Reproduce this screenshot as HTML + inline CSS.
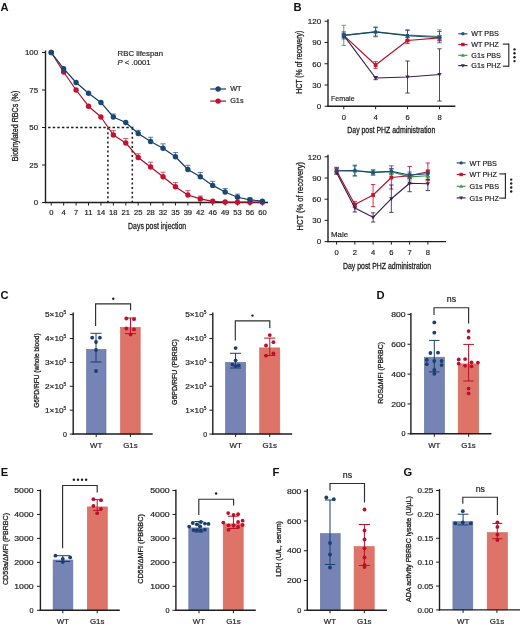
<!DOCTYPE html>
<html><head><meta charset="utf-8"><title>Figure</title>
<style>
html,body{margin:0;padding:0;background:#fff;}
body{width:520px;height:626px;overflow:hidden;}
svg{display:block;font-family:"Liberation Sans", sans-serif;will-change:transform;}
</style></head><body>
<svg width="520" height="626" viewBox="0 0 520 626" font-family='"Liberation Sans", sans-serif' fill="#1c1c1c">
<rect width="520" height="626" fill="#fff"/>
<text x="0.6" y="11.2" font-size="11.2" font-weight="bold" fill="#111">A</text>
<line x1="48.1" y1="127.4" x2="133.5" y2="127.4" stroke="#1e1e1e" stroke-width="1.45" stroke-dasharray="2.45,2.15"/>
<line x1="107.9" y1="127.7" x2="107.9" y2="202.5" stroke="#1e1e1e" stroke-width="1.55" stroke-dasharray="2.0,2.57"/>
<line x1="132.3" y1="127.7" x2="132.3" y2="202.5" stroke="#1e1e1e" stroke-width="1.55" stroke-dasharray="2.0,2.57"/>
<line x1="45.5" y1="50.5" x2="45.5" y2="203.2" stroke="#1e1e1e" stroke-width="1.4"/>
<line x1="44.8" y1="202.5" x2="268" y2="202.5" stroke="#1e1e1e" stroke-width="1.4"/>
<line x1="42" y1="202.5" x2="45.5" y2="202.5" stroke="#1e1e1e" stroke-width="1"/>
<text x="38.1" y="205.3" font-size="7.9" stroke="#1c1c1c" stroke-width="0.18" text-anchor="end">0</text>
<line x1="42" y1="165" x2="45.5" y2="165" stroke="#1e1e1e" stroke-width="1"/>
<text x="38.1" y="167.8" font-size="7.9" stroke="#1c1c1c" stroke-width="0.18" text-anchor="end">25</text>
<line x1="42" y1="127.5" x2="45.5" y2="127.5" stroke="#1e1e1e" stroke-width="1"/>
<text x="38.1" y="130.3" font-size="7.9" stroke="#1c1c1c" stroke-width="0.18" text-anchor="end">50</text>
<line x1="42" y1="90" x2="45.5" y2="90" stroke="#1e1e1e" stroke-width="1"/>
<text x="38.1" y="92.8" font-size="7.9" stroke="#1c1c1c" stroke-width="0.18" text-anchor="end">75</text>
<line x1="42" y1="52.5" x2="45.5" y2="52.5" stroke="#1e1e1e" stroke-width="1"/>
<text x="38.1" y="55.3" font-size="7.9" stroke="#1c1c1c" stroke-width="0.18" text-anchor="end">100</text>
<line x1="51.25" y1="202.5" x2="51.25" y2="205.5" stroke="#1e1e1e" stroke-width="1"/>
<text x="51.25" y="215.2" font-size="7.6" stroke="#1c1c1c" stroke-width="0.18" text-anchor="middle">0</text>
<line x1="63.67" y1="202.5" x2="63.67" y2="205.5" stroke="#1e1e1e" stroke-width="1"/>
<text x="63.67" y="215.2" font-size="7.6" stroke="#1c1c1c" stroke-width="0.18" text-anchor="middle">4</text>
<line x1="76.09" y1="202.5" x2="76.09" y2="205.5" stroke="#1e1e1e" stroke-width="1"/>
<text x="76.09" y="215.2" font-size="7.6" stroke="#1c1c1c" stroke-width="0.18" text-anchor="middle">7</text>
<line x1="88.51" y1="202.5" x2="88.51" y2="205.5" stroke="#1e1e1e" stroke-width="1"/>
<text x="88.51" y="215.2" font-size="7.6" stroke="#1c1c1c" stroke-width="0.18" text-anchor="middle">11</text>
<line x1="100.93" y1="202.5" x2="100.93" y2="205.5" stroke="#1e1e1e" stroke-width="1"/>
<text x="100.93" y="215.2" font-size="7.6" stroke="#1c1c1c" stroke-width="0.18" text-anchor="middle">14</text>
<line x1="113.35" y1="202.5" x2="113.35" y2="205.5" stroke="#1e1e1e" stroke-width="1"/>
<text x="113.35" y="215.2" font-size="7.6" stroke="#1c1c1c" stroke-width="0.18" text-anchor="middle">18</text>
<line x1="125.77" y1="202.5" x2="125.77" y2="205.5" stroke="#1e1e1e" stroke-width="1"/>
<text x="125.77" y="215.2" font-size="7.6" stroke="#1c1c1c" stroke-width="0.18" text-anchor="middle">21</text>
<line x1="138.19" y1="202.5" x2="138.19" y2="205.5" stroke="#1e1e1e" stroke-width="1"/>
<text x="138.19" y="215.2" font-size="7.6" stroke="#1c1c1c" stroke-width="0.18" text-anchor="middle">25</text>
<line x1="150.61" y1="202.5" x2="150.61" y2="205.5" stroke="#1e1e1e" stroke-width="1"/>
<text x="150.61" y="215.2" font-size="7.6" stroke="#1c1c1c" stroke-width="0.18" text-anchor="middle">28</text>
<line x1="163.03" y1="202.5" x2="163.03" y2="205.5" stroke="#1e1e1e" stroke-width="1"/>
<text x="163.03" y="215.2" font-size="7.6" stroke="#1c1c1c" stroke-width="0.18" text-anchor="middle">32</text>
<line x1="175.45" y1="202.5" x2="175.45" y2="205.5" stroke="#1e1e1e" stroke-width="1"/>
<text x="175.45" y="215.2" font-size="7.6" stroke="#1c1c1c" stroke-width="0.18" text-anchor="middle">35</text>
<line x1="187.87" y1="202.5" x2="187.87" y2="205.5" stroke="#1e1e1e" stroke-width="1"/>
<text x="187.87" y="215.2" font-size="7.6" stroke="#1c1c1c" stroke-width="0.18" text-anchor="middle">39</text>
<line x1="200.29" y1="202.5" x2="200.29" y2="205.5" stroke="#1e1e1e" stroke-width="1"/>
<text x="200.29" y="215.2" font-size="7.6" stroke="#1c1c1c" stroke-width="0.18" text-anchor="middle">42</text>
<line x1="212.71" y1="202.5" x2="212.71" y2="205.5" stroke="#1e1e1e" stroke-width="1"/>
<text x="212.71" y="215.2" font-size="7.6" stroke="#1c1c1c" stroke-width="0.18" text-anchor="middle">46</text>
<line x1="225.13" y1="202.5" x2="225.13" y2="205.5" stroke="#1e1e1e" stroke-width="1"/>
<text x="225.13" y="215.2" font-size="7.6" stroke="#1c1c1c" stroke-width="0.18" text-anchor="middle">49</text>
<line x1="237.55" y1="202.5" x2="237.55" y2="205.5" stroke="#1e1e1e" stroke-width="1"/>
<text x="237.55" y="215.2" font-size="7.6" stroke="#1c1c1c" stroke-width="0.18" text-anchor="middle">53</text>
<line x1="249.97" y1="202.5" x2="249.97" y2="205.5" stroke="#1e1e1e" stroke-width="1"/>
<text x="249.97" y="215.2" font-size="7.6" stroke="#1c1c1c" stroke-width="0.18" text-anchor="middle">56</text>
<line x1="262.39" y1="202.5" x2="262.39" y2="205.5" stroke="#1e1e1e" stroke-width="1"/>
<text x="262.39" y="215.2" font-size="7.6" stroke="#1c1c1c" stroke-width="0.18" text-anchor="middle">60</text>
<text x="157.1" y="229.2" font-size="9.6" stroke="#1c1c1c" stroke-width="0.3" text-anchor="middle" textLength="58" lengthAdjust="spacingAndGlyphs">Days post injection</text>
<text transform="translate(17.75,125.95) rotate(-90)" font-size="8.6" stroke="#1c1c1c" stroke-width="0.3" text-anchor="middle" textLength="70.52" lengthAdjust="spacingAndGlyphs">Biotinylated RBCs (%)</text>
<line x1="113.35" y1="135" x2="113.35" y2="130.65" stroke="#a5102b" stroke-width="0.7"/>
<line x1="110.75" y1="130.65" x2="115.95" y2="130.65" stroke="#a5102b" stroke-width="0.65"/>
<line x1="125.77" y1="142.95" x2="125.77" y2="138.45" stroke="#a5102b" stroke-width="0.7"/>
<line x1="123.17" y1="138.45" x2="128.37" y2="138.45" stroke="#a5102b" stroke-width="0.65"/>
<line x1="138.19" y1="157.5" x2="138.19" y2="153.75" stroke="#a5102b" stroke-width="0.7"/>
<line x1="135.59" y1="153.75" x2="140.79" y2="153.75" stroke="#a5102b" stroke-width="0.65"/>
<line x1="150.61" y1="166.95" x2="150.61" y2="162.15" stroke="#a5102b" stroke-width="0.7"/>
<line x1="148.01" y1="162.15" x2="153.21" y2="162.15" stroke="#a5102b" stroke-width="0.65"/>
<line x1="163.03" y1="176.7" x2="163.03" y2="172.2" stroke="#a5102b" stroke-width="0.7"/>
<line x1="160.43" y1="172.2" x2="165.63" y2="172.2" stroke="#a5102b" stroke-width="0.65"/>
<line x1="175.45" y1="186.75" x2="175.45" y2="182.55" stroke="#a5102b" stroke-width="0.7"/>
<line x1="172.85" y1="182.55" x2="178.05" y2="182.55" stroke="#a5102b" stroke-width="0.65"/>
<line x1="187.87" y1="195" x2="187.87" y2="190.65" stroke="#a5102b" stroke-width="0.7"/>
<line x1="185.27" y1="190.65" x2="190.47" y2="190.65" stroke="#a5102b" stroke-width="0.65"/>
<line x1="200.29" y1="198.9" x2="200.29" y2="196.05" stroke="#a5102b" stroke-width="0.7"/>
<line x1="197.69" y1="196.05" x2="202.89" y2="196.05" stroke="#a5102b" stroke-width="0.65"/>
<polyline points="51.25,52.5 63.67,72 76.09,90 88.51,106.2 100.93,117 113.35,135 125.77,142.95 138.19,157.5 150.61,166.95 163.03,176.7 175.45,186.75 187.87,195 200.29,198.9 212.71,201.3 225.13,202.05 237.55,202.2 249.97,202.2 262.39,202.2" fill="none" stroke="#a5102b" stroke-width="1.2" stroke-linejoin="round"/>
<circle cx="51.25" cy="52.5" r="2.7" fill="#c5112e"/>
<circle cx="63.67" cy="72" r="2.7" fill="#c5112e"/>
<circle cx="76.09" cy="90" r="2.7" fill="#c5112e"/>
<circle cx="88.51" cy="106.2" r="2.7" fill="#c5112e"/>
<circle cx="100.93" cy="117" r="2.7" fill="#c5112e"/>
<circle cx="113.35" cy="135" r="2.7" fill="#c5112e"/>
<circle cx="125.77" cy="142.95" r="2.7" fill="#c5112e"/>
<circle cx="138.19" cy="157.5" r="2.7" fill="#c5112e"/>
<circle cx="150.61" cy="166.95" r="2.7" fill="#c5112e"/>
<circle cx="163.03" cy="176.7" r="2.7" fill="#c5112e"/>
<circle cx="175.45" cy="186.75" r="2.7" fill="#c5112e"/>
<circle cx="187.87" cy="195" r="2.7" fill="#c5112e"/>
<circle cx="200.29" cy="198.9" r="2.7" fill="#c5112e"/>
<circle cx="212.71" cy="201.3" r="2.7" fill="#c5112e"/>
<circle cx="225.13" cy="202.05" r="2.7" fill="#c5112e"/>
<circle cx="237.55" cy="202.2" r="2.7" fill="#c5112e"/>
<circle cx="249.97" cy="202.2" r="2.7" fill="#c5112e"/>
<circle cx="262.39" cy="202.2" r="2.7" fill="#c5112e"/>
<line x1="113.35" y1="117" x2="113.35" y2="114" stroke="#163c66" stroke-width="0.7"/>
<line x1="110.75" y1="114" x2="115.95" y2="114" stroke="#163c66" stroke-width="0.65"/>
<line x1="138.19" y1="133.5" x2="138.19" y2="130.35" stroke="#163c66" stroke-width="0.7"/>
<line x1="135.59" y1="130.35" x2="140.79" y2="130.35" stroke="#163c66" stroke-width="0.65"/>
<line x1="150.61" y1="141.45" x2="150.61" y2="137.25" stroke="#163c66" stroke-width="0.7"/>
<line x1="148.01" y1="137.25" x2="153.21" y2="137.25" stroke="#163c66" stroke-width="0.65"/>
<line x1="163.03" y1="148.2" x2="163.03" y2="143.85" stroke="#163c66" stroke-width="0.7"/>
<line x1="160.43" y1="143.85" x2="165.63" y2="143.85" stroke="#163c66" stroke-width="0.65"/>
<line x1="175.45" y1="156.75" x2="175.45" y2="152.55" stroke="#163c66" stroke-width="0.7"/>
<line x1="172.85" y1="152.55" x2="178.05" y2="152.55" stroke="#163c66" stroke-width="0.65"/>
<line x1="187.87" y1="169.5" x2="187.87" y2="165.3" stroke="#163c66" stroke-width="0.7"/>
<line x1="185.27" y1="165.3" x2="190.47" y2="165.3" stroke="#163c66" stroke-width="0.65"/>
<line x1="200.29" y1="176.7" x2="200.29" y2="172.5" stroke="#163c66" stroke-width="0.7"/>
<line x1="197.69" y1="172.5" x2="202.89" y2="172.5" stroke="#163c66" stroke-width="0.65"/>
<line x1="212.71" y1="185.4" x2="212.71" y2="181.35" stroke="#163c66" stroke-width="0.7"/>
<line x1="210.11" y1="181.35" x2="215.31" y2="181.35" stroke="#163c66" stroke-width="0.65"/>
<line x1="225.13" y1="192" x2="225.13" y2="188.55" stroke="#163c66" stroke-width="0.7"/>
<line x1="222.53" y1="188.55" x2="227.73" y2="188.55" stroke="#163c66" stroke-width="0.65"/>
<line x1="237.55" y1="197.25" x2="237.55" y2="194.1" stroke="#163c66" stroke-width="0.7"/>
<line x1="234.95" y1="194.1" x2="240.15" y2="194.1" stroke="#163c66" stroke-width="0.65"/>
<line x1="249.97" y1="199.8" x2="249.97" y2="198" stroke="#163c66" stroke-width="0.7"/>
<line x1="247.37" y1="198" x2="252.57" y2="198" stroke="#163c66" stroke-width="0.65"/>
<polyline points="51.25,52.5 63.67,68.7 76.09,82.5 88.51,93.3 100.93,102.45 113.35,117 125.77,122.55 138.19,133.5 150.61,141.45 163.03,148.2 175.45,156.75 187.87,169.5 200.29,176.7 212.71,185.4 225.13,192 237.55,197.25 249.97,199.8 262.39,201.15" fill="none" stroke="#163c66" stroke-width="1.2" stroke-linejoin="round"/>
<circle cx="51.25" cy="52.5" r="2.7" fill="#194776"/>
<circle cx="63.67" cy="68.7" r="2.7" fill="#194776"/>
<circle cx="76.09" cy="82.5" r="2.7" fill="#194776"/>
<circle cx="88.51" cy="93.3" r="2.7" fill="#194776"/>
<circle cx="100.93" cy="102.45" r="2.7" fill="#194776"/>
<circle cx="113.35" cy="117" r="2.7" fill="#194776"/>
<circle cx="125.77" cy="122.55" r="2.7" fill="#194776"/>
<circle cx="138.19" cy="133.5" r="2.7" fill="#194776"/>
<circle cx="150.61" cy="141.45" r="2.7" fill="#194776"/>
<circle cx="163.03" cy="148.2" r="2.7" fill="#194776"/>
<circle cx="175.45" cy="156.75" r="2.7" fill="#194776"/>
<circle cx="187.87" cy="169.5" r="2.7" fill="#194776"/>
<circle cx="200.29" cy="176.7" r="2.7" fill="#194776"/>
<circle cx="212.71" cy="185.4" r="2.7" fill="#194776"/>
<circle cx="225.13" cy="192" r="2.7" fill="#194776"/>
<circle cx="237.55" cy="197.25" r="2.7" fill="#194776"/>
<circle cx="249.97" cy="199.8" r="2.7" fill="#194776"/>
<circle cx="262.39" cy="201.15" r="2.7" fill="#194776"/>
<text x="117.6" y="55.6" font-size="7.7" stroke="#1c1c1c" stroke-width="0.18" textLength="45.4" lengthAdjust="spacingAndGlyphs">RBC lifespan</text>
<text x="117.6" y="64.6" font-size="7.7" fill="#1c1c1c" stroke="#1c1c1c" stroke-width="0.18" textLength="33" lengthAdjust="spacing"><tspan font-style="italic">P</tspan> &lt; .0001</text>
<line x1="210.2" y1="89" x2="226" y2="89" stroke="#163c66" stroke-width="1.2"/>
<circle cx="218.1" cy="89" r="2.7" fill="#194776"/>
<line x1="210.2" y1="101.1" x2="226" y2="101.1" stroke="#a5102b" stroke-width="1.2"/>
<circle cx="218.1" cy="101.1" r="2.7" fill="#c5112e"/>
<text x="230.2" y="91.4" font-size="7.3" stroke="#1c1c1c" stroke-width="0.18">WT</text>
<text x="230.2" y="103.4" font-size="7.3" stroke="#1c1c1c" stroke-width="0.18">G1s</text>
<text x="293.4" y="10.6" font-size="11.2" font-weight="bold" fill="#111">B</text>
<line x1="328" y1="19.25" x2="328" y2="106.95" stroke="#1e1e1e" stroke-width="1.4"/>
<line x1="327.3" y1="106.25" x2="455.4" y2="106.25" stroke="#1e1e1e" stroke-width="1.4"/>
<line x1="324.6" y1="106.25" x2="328" y2="106.25" stroke="#1e1e1e" stroke-width="1"/>
<text x="321.1" y="109.05" font-size="8" stroke="#1c1c1c" stroke-width="0.18" text-anchor="end">0</text>
<line x1="324.6" y1="85" x2="328" y2="85" stroke="#1e1e1e" stroke-width="1"/>
<text x="321.1" y="87.8" font-size="8" stroke="#1c1c1c" stroke-width="0.18" text-anchor="end">30</text>
<line x1="324.6" y1="63.75" x2="328" y2="63.75" stroke="#1e1e1e" stroke-width="1"/>
<text x="321.1" y="66.55" font-size="8" stroke="#1c1c1c" stroke-width="0.18" text-anchor="end">60</text>
<line x1="324.6" y1="42.5" x2="328" y2="42.5" stroke="#1e1e1e" stroke-width="1"/>
<text x="321.1" y="45.3" font-size="8" stroke="#1c1c1c" stroke-width="0.18" text-anchor="end">90</text>
<line x1="324.6" y1="21.25" x2="328" y2="21.25" stroke="#1e1e1e" stroke-width="1"/>
<text x="321.1" y="24.05" font-size="8" stroke="#1c1c1c" stroke-width="0.18" text-anchor="end">120</text>
<line x1="343.75" y1="106.25" x2="343.75" y2="109.25" stroke="#1e1e1e" stroke-width="1"/>
<text x="343.75" y="119.7" font-size="7.6" stroke="#1c1c1c" stroke-width="0.18" text-anchor="middle">0</text>
<line x1="375.6" y1="106.25" x2="375.6" y2="109.25" stroke="#1e1e1e" stroke-width="1"/>
<text x="375.6" y="119.7" font-size="7.6" stroke="#1c1c1c" stroke-width="0.18" text-anchor="middle">4</text>
<line x1="407.5" y1="106.25" x2="407.5" y2="109.25" stroke="#1e1e1e" stroke-width="1"/>
<text x="407.5" y="119.7" font-size="7.6" stroke="#1c1c1c" stroke-width="0.18" text-anchor="middle">6</text>
<line x1="439.5" y1="106.25" x2="439.5" y2="109.25" stroke="#1e1e1e" stroke-width="1"/>
<text x="439.5" y="119.7" font-size="7.6" stroke="#1c1c1c" stroke-width="0.18" text-anchor="middle">8</text>
<text x="391.3" y="133.1" font-size="9.2" stroke="#1c1c1c" stroke-width="0.3" text-anchor="middle" textLength="88" lengthAdjust="spacingAndGlyphs">Day post PHZ administration</text>
<text transform="translate(302.1,62.25) rotate(-90)" font-size="8.6" stroke="#1c1c1c" stroke-width="0.3" text-anchor="middle" textLength="62.91" lengthAdjust="spacingAndGlyphs">HCT (% of recovery)</text>
<text x="331" y="101.2" font-size="7.9" stroke="#1c1c1c" stroke-width="0.18" textLength="23.6" lengthAdjust="spacingAndGlyphs">Female</text>
<line x1="343.75" y1="25.3" x2="343.75" y2="45.4" stroke="#3f9a4f" stroke-width="0.85"/>
<line x1="341.55" y1="25.3" x2="345.95" y2="25.3" stroke="#3f9a4f" stroke-width="0.85"/>
<line x1="341.55" y1="45.4" x2="345.95" y2="45.4" stroke="#3f9a4f" stroke-width="0.85"/>
<line x1="375.6" y1="26.92" x2="375.6" y2="36.83" stroke="#3f9a4f" stroke-width="0.85"/>
<line x1="373.4" y1="26.92" x2="377.8" y2="26.92" stroke="#3f9a4f" stroke-width="0.85"/>
<line x1="373.4" y1="36.83" x2="377.8" y2="36.83" stroke="#3f9a4f" stroke-width="0.85"/>
<line x1="407.5" y1="29.6" x2="407.5" y2="40" stroke="#3f9a4f" stroke-width="0.85"/>
<line x1="405.3" y1="29.6" x2="409.7" y2="29.6" stroke="#3f9a4f" stroke-width="0.85"/>
<line x1="405.3" y1="40" x2="409.7" y2="40" stroke="#3f9a4f" stroke-width="0.85"/>
<line x1="439.5" y1="29.8" x2="439.5" y2="41" stroke="#3f9a4f" stroke-width="0.85"/>
<line x1="437.3" y1="29.8" x2="441.7" y2="29.8" stroke="#3f9a4f" stroke-width="0.85"/>
<line x1="437.3" y1="41" x2="441.7" y2="41" stroke="#3f9a4f" stroke-width="0.85"/>
<line x1="343.75" y1="33.29" x2="343.75" y2="37.54" stroke="#c4142f" stroke-width="0.85"/>
<line x1="341.55" y1="33.29" x2="345.95" y2="33.29" stroke="#c4142f" stroke-width="0.85"/>
<line x1="341.55" y1="37.54" x2="345.95" y2="37.54" stroke="#c4142f" stroke-width="0.85"/>
<line x1="375.6" y1="61.6" x2="375.6" y2="68.3" stroke="#c4142f" stroke-width="0.85"/>
<line x1="373.4" y1="61.6" x2="377.8" y2="61.6" stroke="#c4142f" stroke-width="0.85"/>
<line x1="373.4" y1="68.3" x2="377.8" y2="68.3" stroke="#c4142f" stroke-width="0.85"/>
<line x1="407.5" y1="37.54" x2="407.5" y2="43.56" stroke="#c4142f" stroke-width="0.85"/>
<line x1="405.3" y1="37.54" x2="409.7" y2="37.54" stroke="#c4142f" stroke-width="0.85"/>
<line x1="405.3" y1="43.56" x2="409.7" y2="43.56" stroke="#c4142f" stroke-width="0.85"/>
<line x1="439.5" y1="35.42" x2="439.5" y2="40.38" stroke="#c4142f" stroke-width="0.85"/>
<line x1="437.3" y1="35.42" x2="441.7" y2="35.42" stroke="#c4142f" stroke-width="0.85"/>
<line x1="437.3" y1="40.38" x2="441.7" y2="40.38" stroke="#c4142f" stroke-width="0.85"/>
<line x1="375.6" y1="76.5" x2="375.6" y2="79.69" stroke="#43205a" stroke-width="0.85"/>
<line x1="373.4" y1="76.5" x2="377.8" y2="76.5" stroke="#43205a" stroke-width="0.85"/>
<line x1="373.4" y1="79.69" x2="377.8" y2="79.69" stroke="#43205a" stroke-width="0.85"/>
<line x1="407.5" y1="61" x2="407.5" y2="93" stroke="#43205a" stroke-width="0.85"/>
<line x1="405.3" y1="61" x2="409.7" y2="61" stroke="#43205a" stroke-width="0.85"/>
<line x1="405.3" y1="93" x2="409.7" y2="93" stroke="#43205a" stroke-width="0.85"/>
<line x1="439.5" y1="48.8" x2="439.5" y2="101" stroke="#43205a" stroke-width="0.85"/>
<line x1="437.3" y1="48.8" x2="441.7" y2="48.8" stroke="#43205a" stroke-width="0.85"/>
<line x1="437.3" y1="101" x2="441.7" y2="101" stroke="#43205a" stroke-width="0.85"/>
<line x1="343.75" y1="31.88" x2="343.75" y2="38.96" stroke="#1d5282" stroke-width="0.85"/>
<line x1="341.55" y1="31.88" x2="345.95" y2="31.88" stroke="#1d5282" stroke-width="0.85"/>
<line x1="341.55" y1="38.96" x2="345.95" y2="38.96" stroke="#1d5282" stroke-width="0.85"/>
<line x1="375.6" y1="27.62" x2="375.6" y2="36.12" stroke="#1d5282" stroke-width="0.85"/>
<line x1="373.4" y1="27.62" x2="377.8" y2="27.62" stroke="#1d5282" stroke-width="0.85"/>
<line x1="373.4" y1="36.12" x2="377.8" y2="36.12" stroke="#1d5282" stroke-width="0.85"/>
<line x1="407.5" y1="30.6" x2="407.5" y2="40.8" stroke="#1d5282" stroke-width="0.85"/>
<line x1="405.3" y1="30.6" x2="409.7" y2="30.6" stroke="#1d5282" stroke-width="0.85"/>
<line x1="405.3" y1="40.8" x2="409.7" y2="40.8" stroke="#1d5282" stroke-width="0.85"/>
<line x1="439.5" y1="31.5" x2="439.5" y2="42.8" stroke="#1d5282" stroke-width="0.85"/>
<line x1="437.3" y1="31.5" x2="441.7" y2="31.5" stroke="#1d5282" stroke-width="0.85"/>
<line x1="437.3" y1="42.8" x2="441.7" y2="42.8" stroke="#1d5282" stroke-width="0.85"/>
<polyline points="343.75,35.42 375.6,31.88 407.5,35.06 439.5,36.48" fill="none" stroke="#3a8a48" stroke-width="1.15" stroke-linejoin="round"/>
<polygon points="343.75,33.14 341.56,36.94 345.94,36.94" fill="#3f9a4f"/>
<polygon points="375.6,29.59 373.42,33.4 377.79,33.4" fill="#3f9a4f"/>
<polygon points="407.5,32.78 405.31,36.58 409.69,36.58" fill="#3f9a4f"/>
<polygon points="439.5,34.2 437.31,38 441.69,38" fill="#3f9a4f"/>
<polyline points="343.75,35.42 375.6,65.03 407.5,40.52 439.5,37.83" fill="none" stroke="#b3112c" stroke-width="1.15" stroke-linejoin="round"/>
<rect x="341.85" y="33.52" width="3.8" height="3.8" fill="#c4142f"/>
<rect x="373.7" y="63.13" width="3.8" height="3.8" fill="#c4142f"/>
<rect x="405.6" y="38.62" width="3.8" height="3.8" fill="#c4142f"/>
<rect x="437.6" y="35.93" width="3.8" height="3.8" fill="#c4142f"/>
<polyline points="343.75,35.42 375.6,77.99 407.5,77 439.5,74.52" fill="none" stroke="#3b1b4f" stroke-width="1.15" stroke-linejoin="round"/>
<polygon points="343.75,37.7 341.56,33.9 345.94,33.9" fill="#43205a"/>
<polygon points="375.6,80.27 373.42,76.47 377.79,76.47" fill="#43205a"/>
<polygon points="407.5,79.28 405.31,75.48 409.69,75.48" fill="#43205a"/>
<polygon points="439.5,76.8 437.31,73 441.69,73" fill="#43205a"/>
<polyline points="343.75,35.42 375.6,31.88 407.5,35.77 439.5,37.54" fill="none" stroke="#1a4670" stroke-width="1.15" stroke-linejoin="round"/>
<circle cx="343.75" cy="35.42" r="1.9" fill="#1d5282"/>
<circle cx="375.6" cy="31.88" r="1.9" fill="#1d5282"/>
<circle cx="407.5" cy="35.77" r="1.9" fill="#1d5282"/>
<circle cx="439.5" cy="37.54" r="1.9" fill="#1d5282"/>
<line x1="328" y1="154.8" x2="328" y2="242.3" stroke="#1e1e1e" stroke-width="1.4"/>
<line x1="327.3" y1="241.6" x2="446" y2="241.6" stroke="#1e1e1e" stroke-width="1.4"/>
<line x1="324.6" y1="241.6" x2="328" y2="241.6" stroke="#1e1e1e" stroke-width="1"/>
<text x="321.1" y="244.4" font-size="8" stroke="#1c1c1c" stroke-width="0.18" text-anchor="end">0</text>
<line x1="324.6" y1="220.4" x2="328" y2="220.4" stroke="#1e1e1e" stroke-width="1"/>
<text x="321.1" y="223.2" font-size="8" stroke="#1c1c1c" stroke-width="0.18" text-anchor="end">30</text>
<line x1="324.6" y1="199.2" x2="328" y2="199.2" stroke="#1e1e1e" stroke-width="1"/>
<text x="321.1" y="202" font-size="8" stroke="#1c1c1c" stroke-width="0.18" text-anchor="end">60</text>
<line x1="324.6" y1="178" x2="328" y2="178" stroke="#1e1e1e" stroke-width="1"/>
<text x="321.1" y="180.8" font-size="8" stroke="#1c1c1c" stroke-width="0.18" text-anchor="end">90</text>
<line x1="324.6" y1="156.8" x2="328" y2="156.8" stroke="#1e1e1e" stroke-width="1"/>
<text x="321.1" y="159.6" font-size="8" stroke="#1c1c1c" stroke-width="0.18" text-anchor="end">120</text>
<line x1="336.6" y1="241.6" x2="336.6" y2="244.6" stroke="#1e1e1e" stroke-width="1"/>
<text x="336.6" y="255.4" font-size="7.6" stroke="#1c1c1c" stroke-width="0.18" text-anchor="middle">0</text>
<line x1="354.85" y1="241.6" x2="354.85" y2="244.6" stroke="#1e1e1e" stroke-width="1"/>
<text x="354.85" y="255.4" font-size="7.6" stroke="#1c1c1c" stroke-width="0.18" text-anchor="middle">2</text>
<line x1="373.1" y1="241.6" x2="373.1" y2="244.6" stroke="#1e1e1e" stroke-width="1"/>
<text x="373.1" y="255.4" font-size="7.6" stroke="#1c1c1c" stroke-width="0.18" text-anchor="middle">4</text>
<line x1="391.35" y1="241.6" x2="391.35" y2="244.6" stroke="#1e1e1e" stroke-width="1"/>
<text x="391.35" y="255.4" font-size="7.6" stroke="#1c1c1c" stroke-width="0.18" text-anchor="middle">6</text>
<line x1="409.6" y1="241.6" x2="409.6" y2="244.6" stroke="#1e1e1e" stroke-width="1"/>
<text x="409.6" y="255.4" font-size="7.6" stroke="#1c1c1c" stroke-width="0.18" text-anchor="middle">7</text>
<line x1="427.85" y1="241.6" x2="427.85" y2="244.6" stroke="#1e1e1e" stroke-width="1"/>
<text x="427.85" y="255.4" font-size="7.6" stroke="#1c1c1c" stroke-width="0.18" text-anchor="middle">8</text>
<text x="387" y="269" font-size="9.2" stroke="#1c1c1c" stroke-width="0.3" text-anchor="middle" textLength="88" lengthAdjust="spacingAndGlyphs">Day post PHZ administration</text>
<text transform="translate(302.5,196.25) rotate(-90)" font-size="8.6" stroke="#1c1c1c" stroke-width="0.3" text-anchor="middle" textLength="68.38" lengthAdjust="spacingAndGlyphs">HCT (% of recovery)</text>
<text x="331" y="236.8" font-size="7.9" stroke="#1c1c1c" stroke-width="0.18">Male</text>
<line x1="336.6" y1="167.5" x2="336.6" y2="174" stroke="#3f9a4f" stroke-width="0.85"/>
<line x1="334.4" y1="167.5" x2="338.8" y2="167.5" stroke="#3f9a4f" stroke-width="0.85"/>
<line x1="334.4" y1="174" x2="338.8" y2="174" stroke="#3f9a4f" stroke-width="0.85"/>
<line x1="354.85" y1="166" x2="354.85" y2="176" stroke="#3f9a4f" stroke-width="0.85"/>
<line x1="352.65" y1="166" x2="357.05" y2="166" stroke="#3f9a4f" stroke-width="0.85"/>
<line x1="352.65" y1="176" x2="357.05" y2="176" stroke="#3f9a4f" stroke-width="0.85"/>
<line x1="373.1" y1="170" x2="373.1" y2="175" stroke="#3f9a4f" stroke-width="0.85"/>
<line x1="370.9" y1="170" x2="375.3" y2="170" stroke="#3f9a4f" stroke-width="0.85"/>
<line x1="370.9" y1="175" x2="375.3" y2="175" stroke="#3f9a4f" stroke-width="0.85"/>
<line x1="391.35" y1="169" x2="391.35" y2="174.5" stroke="#3f9a4f" stroke-width="0.85"/>
<line x1="389.15" y1="169" x2="393.55" y2="169" stroke="#3f9a4f" stroke-width="0.85"/>
<line x1="389.15" y1="174.5" x2="393.55" y2="174.5" stroke="#3f9a4f" stroke-width="0.85"/>
<line x1="409.6" y1="174" x2="409.6" y2="180" stroke="#3f9a4f" stroke-width="0.85"/>
<line x1="407.4" y1="174" x2="411.8" y2="174" stroke="#3f9a4f" stroke-width="0.85"/>
<line x1="407.4" y1="180" x2="411.8" y2="180" stroke="#3f9a4f" stroke-width="0.85"/>
<line x1="427.85" y1="172.5" x2="427.85" y2="179" stroke="#3f9a4f" stroke-width="0.85"/>
<line x1="425.65" y1="172.5" x2="430.05" y2="172.5" stroke="#3f9a4f" stroke-width="0.85"/>
<line x1="425.65" y1="179" x2="430.05" y2="179" stroke="#3f9a4f" stroke-width="0.85"/>
<line x1="336.6" y1="168.5" x2="336.6" y2="173" stroke="#c4142f" stroke-width="0.85"/>
<line x1="334.4" y1="168.5" x2="338.8" y2="168.5" stroke="#c4142f" stroke-width="0.85"/>
<line x1="334.4" y1="173" x2="338.8" y2="173" stroke="#c4142f" stroke-width="0.85"/>
<line x1="354.85" y1="201.4" x2="354.85" y2="207" stroke="#c4142f" stroke-width="0.85"/>
<line x1="352.65" y1="201.4" x2="357.05" y2="201.4" stroke="#c4142f" stroke-width="0.85"/>
<line x1="352.65" y1="207" x2="357.05" y2="207" stroke="#c4142f" stroke-width="0.85"/>
<line x1="373.1" y1="184.5" x2="373.1" y2="206.7" stroke="#c4142f" stroke-width="0.85"/>
<line x1="370.9" y1="184.5" x2="375.3" y2="184.5" stroke="#c4142f" stroke-width="0.85"/>
<line x1="370.9" y1="206.7" x2="375.3" y2="206.7" stroke="#c4142f" stroke-width="0.85"/>
<line x1="391.35" y1="165.9" x2="391.35" y2="189" stroke="#c4142f" stroke-width="0.85"/>
<line x1="389.15" y1="165.9" x2="393.55" y2="165.9" stroke="#c4142f" stroke-width="0.85"/>
<line x1="389.15" y1="189" x2="393.55" y2="189" stroke="#c4142f" stroke-width="0.85"/>
<line x1="409.6" y1="166.5" x2="409.6" y2="183.8" stroke="#c4142f" stroke-width="0.85"/>
<line x1="407.4" y1="166.5" x2="411.8" y2="166.5" stroke="#c4142f" stroke-width="0.85"/>
<line x1="407.4" y1="183.8" x2="411.8" y2="183.8" stroke="#c4142f" stroke-width="0.85"/>
<line x1="427.85" y1="163" x2="427.85" y2="180.7" stroke="#c4142f" stroke-width="0.85"/>
<line x1="425.65" y1="163" x2="430.05" y2="163" stroke="#c4142f" stroke-width="0.85"/>
<line x1="425.65" y1="180.7" x2="430.05" y2="180.7" stroke="#c4142f" stroke-width="0.85"/>
<line x1="354.85" y1="204.5" x2="354.85" y2="212" stroke="#43205a" stroke-width="0.85"/>
<line x1="352.65" y1="204.5" x2="357.05" y2="204.5" stroke="#43205a" stroke-width="0.85"/>
<line x1="352.65" y1="212" x2="357.05" y2="212" stroke="#43205a" stroke-width="0.85"/>
<line x1="373.1" y1="212.8" x2="373.1" y2="222" stroke="#43205a" stroke-width="0.85"/>
<line x1="370.9" y1="212.8" x2="375.3" y2="212.8" stroke="#43205a" stroke-width="0.85"/>
<line x1="370.9" y1="222" x2="375.3" y2="222" stroke="#43205a" stroke-width="0.85"/>
<line x1="391.35" y1="185" x2="391.35" y2="212.4" stroke="#43205a" stroke-width="0.85"/>
<line x1="389.15" y1="185" x2="393.55" y2="185" stroke="#43205a" stroke-width="0.85"/>
<line x1="389.15" y1="212.4" x2="393.55" y2="212.4" stroke="#43205a" stroke-width="0.85"/>
<line x1="409.6" y1="178.5" x2="409.6" y2="191.7" stroke="#43205a" stroke-width="0.85"/>
<line x1="407.4" y1="178.5" x2="411.8" y2="178.5" stroke="#43205a" stroke-width="0.85"/>
<line x1="407.4" y1="191.7" x2="411.8" y2="191.7" stroke="#43205a" stroke-width="0.85"/>
<line x1="427.85" y1="179.5" x2="427.85" y2="190.6" stroke="#43205a" stroke-width="0.85"/>
<line x1="425.65" y1="179.5" x2="430.05" y2="179.5" stroke="#43205a" stroke-width="0.85"/>
<line x1="425.65" y1="190.6" x2="430.05" y2="190.6" stroke="#43205a" stroke-width="0.85"/>
<line x1="336.6" y1="167.3" x2="336.6" y2="174.3" stroke="#1d5282" stroke-width="0.85"/>
<line x1="334.4" y1="167.3" x2="338.8" y2="167.3" stroke="#1d5282" stroke-width="0.85"/>
<line x1="334.4" y1="174.3" x2="338.8" y2="174.3" stroke="#1d5282" stroke-width="0.85"/>
<line x1="354.85" y1="165.2" x2="354.85" y2="175.8" stroke="#1d5282" stroke-width="0.85"/>
<line x1="352.65" y1="165.2" x2="357.05" y2="165.2" stroke="#1d5282" stroke-width="0.85"/>
<line x1="352.65" y1="175.8" x2="357.05" y2="175.8" stroke="#1d5282" stroke-width="0.85"/>
<line x1="373.1" y1="170" x2="373.1" y2="175" stroke="#1d5282" stroke-width="0.85"/>
<line x1="370.9" y1="170" x2="375.3" y2="170" stroke="#1d5282" stroke-width="0.85"/>
<line x1="370.9" y1="175" x2="375.3" y2="175" stroke="#1d5282" stroke-width="0.85"/>
<line x1="391.35" y1="168.6" x2="391.35" y2="173.7" stroke="#1d5282" stroke-width="0.85"/>
<line x1="389.15" y1="168.6" x2="393.55" y2="168.6" stroke="#1d5282" stroke-width="0.85"/>
<line x1="389.15" y1="173.7" x2="393.55" y2="173.7" stroke="#1d5282" stroke-width="0.85"/>
<line x1="409.6" y1="172" x2="409.6" y2="178" stroke="#1d5282" stroke-width="0.85"/>
<line x1="407.4" y1="172" x2="411.8" y2="172" stroke="#1d5282" stroke-width="0.85"/>
<line x1="407.4" y1="178" x2="411.8" y2="178" stroke="#1d5282" stroke-width="0.85"/>
<line x1="427.85" y1="170" x2="427.85" y2="177" stroke="#1d5282" stroke-width="0.85"/>
<line x1="425.65" y1="170" x2="430.05" y2="170" stroke="#1d5282" stroke-width="0.85"/>
<line x1="425.65" y1="177" x2="430.05" y2="177" stroke="#1d5282" stroke-width="0.85"/>
<polyline points="336.6,170.7 354.85,171 373.1,172.4 391.35,171.8 409.6,176.9 427.85,175.8" fill="none" stroke="#3a8a48" stroke-width="1.15" stroke-linejoin="round"/>
<polygon points="336.6,168.42 334.42,172.22 338.79,172.22" fill="#3f9a4f"/>
<polygon points="354.85,168.72 352.67,172.52 357.04,172.52" fill="#3f9a4f"/>
<polygon points="373.1,170.12 370.92,173.92 375.29,173.92" fill="#3f9a4f"/>
<polygon points="391.35,169.52 389.17,173.32 393.54,173.32" fill="#3f9a4f"/>
<polygon points="409.6,174.62 407.42,178.42 411.79,178.42" fill="#3f9a4f"/>
<polygon points="427.85,173.52 425.67,177.32 430.04,177.32" fill="#3f9a4f"/>
<polyline points="336.6,170.7 354.85,204.6 373.1,195 391.35,177.5 409.6,175.8 427.85,171.8" fill="none" stroke="#b3112c" stroke-width="1.15" stroke-linejoin="round"/>
<rect x="334.7" y="168.8" width="3.8" height="3.8" fill="#c4142f"/>
<rect x="352.95" y="202.7" width="3.8" height="3.8" fill="#c4142f"/>
<rect x="371.2" y="193.1" width="3.8" height="3.8" fill="#c4142f"/>
<rect x="389.45" y="175.6" width="3.8" height="3.8" fill="#c4142f"/>
<rect x="407.7" y="173.9" width="3.8" height="3.8" fill="#c4142f"/>
<rect x="425.95" y="169.9" width="3.8" height="3.8" fill="#c4142f"/>
<polyline points="336.6,172.8 354.85,208 373.1,217.3 391.35,198.7 409.6,183.2 427.85,183.8" fill="none" stroke="#3b1b4f" stroke-width="1.15" stroke-linejoin="round"/>
<polygon points="336.6,175.08 334.42,171.28 338.79,171.28" fill="#43205a"/>
<polygon points="354.85,210.28 352.67,206.48 357.04,206.48" fill="#43205a"/>
<polygon points="373.1,219.58 370.92,215.78 375.29,215.78" fill="#43205a"/>
<polygon points="391.35,200.98 389.17,197.18 393.54,197.18" fill="#43205a"/>
<polygon points="409.6,185.48 407.42,181.68 411.79,181.68" fill="#43205a"/>
<polygon points="427.85,186.08 425.67,182.28 430.04,182.28" fill="#43205a"/>
<polyline points="336.6,170.7 354.85,170.5 373.1,172.4 391.35,171.2 409.6,175 427.85,173.7" fill="none" stroke="#1a4670" stroke-width="1.15" stroke-linejoin="round"/>
<circle cx="336.6" cy="170.7" r="1.9" fill="#1d5282"/>
<circle cx="354.85" cy="170.5" r="1.9" fill="#1d5282"/>
<circle cx="373.1" cy="172.4" r="1.9" fill="#1d5282"/>
<circle cx="391.35" cy="171.2" r="1.9" fill="#1d5282"/>
<circle cx="409.6" cy="175" r="1.9" fill="#1d5282"/>
<circle cx="427.85" cy="173.7" r="1.9" fill="#1d5282"/>
<line x1="458.3" y1="33.8" x2="467.5" y2="33.8" stroke="#1d5282" stroke-width="1.2"/>
<circle cx="462.9" cy="33.8" r="1.7" fill="#1d5282"/>
<text x="471.3" y="36.4" font-size="7.2" stroke="#1c1c1c" stroke-width="0.18">WT PBS</text>
<line x1="458.3" y1="44.5" x2="467.5" y2="44.5" stroke="#c4142f" stroke-width="1.2"/>
<rect x="461.2" y="42.8" width="3.4" height="3.4" fill="#c4142f"/>
<text x="471.3" y="47.1" font-size="7.2" stroke="#1c1c1c" stroke-width="0.18">WT PHZ</text>
<line x1="458.3" y1="55.3" x2="467.5" y2="55.3" stroke="#3f9a4f" stroke-width="1.2"/>
<polygon points="462.9,53.26 460.94,56.66 464.85,56.66" fill="#3f9a4f"/>
<text x="471.3" y="57.9" font-size="7.2" stroke="#1c1c1c" stroke-width="0.18">G1s PBS</text>
<line x1="458.3" y1="65.6" x2="467.5" y2="65.6" stroke="#43205a" stroke-width="1.2"/>
<polygon points="462.9,67.64 460.94,64.24 464.85,64.24" fill="#43205a"/>
<text x="471.3" y="68.2" font-size="7.2" stroke="#1c1c1c" stroke-width="0.18">G1s PHZ</text>
<line x1="502.8" y1="44.1" x2="508.8" y2="44.1" stroke="#1e1e1e" stroke-width="1.1"/>
<line x1="502.8" y1="66.2" x2="508.8" y2="66.2" stroke="#1e1e1e" stroke-width="1.1"/>
<line x1="508.8" y1="43.55" x2="508.8" y2="66.75" stroke="#1e1e1e" stroke-width="1.1"/>
<circle cx="514.5" cy="49.4" r="1.2" fill="#1e1e1e"/>
<circle cx="514.5" cy="53.3" r="1.2" fill="#1e1e1e"/>
<circle cx="514.5" cy="57.2" r="1.2" fill="#1e1e1e"/>
<circle cx="514.5" cy="61.1" r="1.2" fill="#1e1e1e"/>
<line x1="456.7" y1="162.9" x2="465.6" y2="162.9" stroke="#1d5282" stroke-width="1.2"/>
<circle cx="461.15" cy="162.9" r="1.7" fill="#1d5282"/>
<text x="469.4" y="165.5" font-size="7.2" stroke="#1c1c1c" stroke-width="0.18">WT PBS</text>
<line x1="456.7" y1="174.5" x2="465.6" y2="174.5" stroke="#c4142f" stroke-width="1.2"/>
<rect x="459.45" y="172.8" width="3.4" height="3.4" fill="#c4142f"/>
<text x="469.4" y="177.1" font-size="7.2" stroke="#1c1c1c" stroke-width="0.18">WT PHZ</text>
<line x1="456.7" y1="186.3" x2="465.6" y2="186.3" stroke="#3f9a4f" stroke-width="1.2"/>
<polygon points="461.15,184.26 459.19,187.66 463.1,187.66" fill="#3f9a4f"/>
<text x="469.4" y="188.9" font-size="7.2" stroke="#1c1c1c" stroke-width="0.18">G1s PBS</text>
<line x1="456.7" y1="197.9" x2="465.6" y2="197.9" stroke="#43205a" stroke-width="1.2"/>
<polygon points="461.15,199.94 459.19,196.54 463.1,196.54" fill="#43205a"/>
<text x="469.4" y="200.5" font-size="7.2" stroke="#1c1c1c" stroke-width="0.18">G1s PHZ</text>
<line x1="499.3" y1="173.9" x2="505.4" y2="173.9" stroke="#1e1e1e" stroke-width="1.1"/>
<line x1="499.3" y1="198.1" x2="505.4" y2="198.1" stroke="#1e1e1e" stroke-width="1.1"/>
<line x1="505.4" y1="173.35" x2="505.4" y2="198.65" stroke="#1e1e1e" stroke-width="1.1"/>
<circle cx="511.2" cy="179.6" r="1.2" fill="#1e1e1e"/>
<circle cx="511.2" cy="183.57" r="1.2" fill="#1e1e1e"/>
<circle cx="511.2" cy="187.53" r="1.2" fill="#1e1e1e"/>
<circle cx="511.2" cy="191.5" r="1.2" fill="#1e1e1e"/>
<text x="0.5" y="298.8" font-size="11.2" font-weight="bold" fill="#111">C</text>
<line x1="73.2" y1="312.5" x2="73.2" y2="434.7" stroke="#1e1e1e" stroke-width="1.4"/>
<line x1="69.8" y1="434.1" x2="73.2" y2="434.1" stroke="#1e1e1e" stroke-width="1"/>
<text x="67" y="436.7" font-size="7" stroke="#1c1c1c" stroke-width="0.18" text-anchor="end">0</text>
<line x1="69.8" y1="410.2" x2="73.2" y2="410.2" stroke="#1e1e1e" stroke-width="1"/>
<text x="63.6" y="412.7" font-size="7" stroke="#1c1c1c" stroke-width="0.18" text-anchor="end" textLength="18.6" lengthAdjust="spacingAndGlyphs">1×10</text>
<text x="63.5" y="409.8" font-size="4.76" stroke="#1c1c1c" stroke-width="0.18">5</text>
<line x1="69.8" y1="386.3" x2="73.2" y2="386.3" stroke="#1e1e1e" stroke-width="1"/>
<text x="63.6" y="388.8" font-size="7" stroke="#1c1c1c" stroke-width="0.18" text-anchor="end" textLength="18.6" lengthAdjust="spacingAndGlyphs">2×10</text>
<text x="63.5" y="385.9" font-size="4.76" stroke="#1c1c1c" stroke-width="0.18">5</text>
<line x1="69.8" y1="362.4" x2="73.2" y2="362.4" stroke="#1e1e1e" stroke-width="1"/>
<text x="63.6" y="364.9" font-size="7" stroke="#1c1c1c" stroke-width="0.18" text-anchor="end" textLength="18.6" lengthAdjust="spacingAndGlyphs">3×10</text>
<text x="63.5" y="362" font-size="4.76" stroke="#1c1c1c" stroke-width="0.18">5</text>
<line x1="69.8" y1="338.5" x2="73.2" y2="338.5" stroke="#1e1e1e" stroke-width="1"/>
<text x="63.6" y="341" font-size="7" stroke="#1c1c1c" stroke-width="0.18" text-anchor="end" textLength="18.6" lengthAdjust="spacingAndGlyphs">4×10</text>
<text x="63.5" y="338.1" font-size="4.76" stroke="#1c1c1c" stroke-width="0.18">5</text>
<line x1="69.8" y1="314.6" x2="73.2" y2="314.6" stroke="#1e1e1e" stroke-width="1"/>
<text x="63.6" y="317.1" font-size="7" stroke="#1c1c1c" stroke-width="0.18" text-anchor="end" textLength="18.6" lengthAdjust="spacingAndGlyphs">5×10</text>
<text x="63.5" y="314.2" font-size="4.76" stroke="#1c1c1c" stroke-width="0.18">5</text>
<rect x="86.5" y="349.3" width="19.5" height="84.7" fill="#7584b4" stroke="#66749f" stroke-width="0.6"/>
<rect x="120.5" y="327.3" width="19.7" height="106.7" fill="#dd7467" stroke="#cd685c" stroke-width="0.6"/>
<line x1="72.5" y1="434" x2="152.7" y2="434" stroke="#1e1e1e" stroke-width="1.4"/>
<line x1="96.2" y1="434" x2="96.2" y2="437" stroke="#1e1e1e" stroke-width="1"/>
<text x="96.2" y="447.5" font-size="7.9" stroke="#1c1c1c" stroke-width="0.18" text-anchor="middle">WT</text>
<line x1="130.4" y1="434" x2="130.4" y2="437" stroke="#1e1e1e" stroke-width="1"/>
<text x="130.4" y="447.5" font-size="7.9" stroke="#1c1c1c" stroke-width="0.18" text-anchor="middle">G1s</text>
<line x1="96" y1="333.3" x2="96" y2="362" stroke="#173f72" stroke-width="1"/>
<line x1="90.5" y1="333.3" x2="101.5" y2="333.3" stroke="#173f72" stroke-width="1"/>
<line x1="90.5" y1="362" x2="101.5" y2="362" stroke="#173f72" stroke-width="1"/>
<line x1="130.5" y1="318" x2="130.5" y2="333.6" stroke="#bd0e2b" stroke-width="1"/>
<line x1="125" y1="318" x2="136" y2="318" stroke="#bd0e2b" stroke-width="1"/>
<line x1="125" y1="333.6" x2="136" y2="333.6" stroke="#bd0e2b" stroke-width="1"/>
<circle cx="92.2" cy="337.7" r="1.9" fill="#173f72"/>
<circle cx="99.9" cy="337.7" r="1.9" fill="#173f72"/>
<circle cx="96" cy="342" r="1.9" fill="#173f72"/>
<circle cx="96" cy="350" r="1.9" fill="#173f72"/>
<circle cx="96" cy="371" r="1.9" fill="#173f72"/>
<circle cx="126.3" cy="318.5" r="1.9" fill="#bd0e2b"/>
<circle cx="134" cy="319.2" r="1.9" fill="#bd0e2b"/>
<circle cx="126.3" cy="328.5" r="1.9" fill="#bd0e2b"/>
<circle cx="134" cy="329.4" r="1.9" fill="#bd0e2b"/>
<circle cx="130.6" cy="334.6" r="1.9" fill="#bd0e2b"/>
<polyline points="95.6,326 95.6,303.8 130.6,303.8 130.6,310.2" fill="none" stroke="#2e2e2e" stroke-width="1.15"/>
<circle cx="113.3" cy="298.8" r="1.2" fill="#1e1e1e"/>
<text transform="translate(38.5,370.55) rotate(-90)" font-size="7.8" stroke="#1c1c1c" stroke-width="0.3" text-anchor="middle" textLength="74.54" lengthAdjust="spacingAndGlyphs">G6PD/RFU (whole blood)</text>
<line x1="212.8" y1="312.5" x2="212.8" y2="434.7" stroke="#1e1e1e" stroke-width="1.4"/>
<line x1="209.4" y1="434.1" x2="212.8" y2="434.1" stroke="#1e1e1e" stroke-width="1"/>
<text x="207.2" y="436.7" font-size="7" stroke="#1c1c1c" stroke-width="0.18" text-anchor="end">0</text>
<line x1="209.4" y1="410.2" x2="212.8" y2="410.2" stroke="#1e1e1e" stroke-width="1"/>
<text x="203.8" y="412.7" font-size="7" stroke="#1c1c1c" stroke-width="0.18" text-anchor="end" textLength="18.6" lengthAdjust="spacingAndGlyphs">1×10</text>
<text x="203.7" y="409.8" font-size="4.76" stroke="#1c1c1c" stroke-width="0.18">5</text>
<line x1="209.4" y1="386.3" x2="212.8" y2="386.3" stroke="#1e1e1e" stroke-width="1"/>
<text x="203.8" y="388.8" font-size="7" stroke="#1c1c1c" stroke-width="0.18" text-anchor="end" textLength="18.6" lengthAdjust="spacingAndGlyphs">2×10</text>
<text x="203.7" y="385.9" font-size="4.76" stroke="#1c1c1c" stroke-width="0.18">5</text>
<line x1="209.4" y1="362.4" x2="212.8" y2="362.4" stroke="#1e1e1e" stroke-width="1"/>
<text x="203.8" y="364.9" font-size="7" stroke="#1c1c1c" stroke-width="0.18" text-anchor="end" textLength="18.6" lengthAdjust="spacingAndGlyphs">3×10</text>
<text x="203.7" y="362" font-size="4.76" stroke="#1c1c1c" stroke-width="0.18">5</text>
<line x1="209.4" y1="338.5" x2="212.8" y2="338.5" stroke="#1e1e1e" stroke-width="1"/>
<text x="203.8" y="341" font-size="7" stroke="#1c1c1c" stroke-width="0.18" text-anchor="end" textLength="18.6" lengthAdjust="spacingAndGlyphs">4×10</text>
<text x="203.7" y="338.1" font-size="4.76" stroke="#1c1c1c" stroke-width="0.18">5</text>
<line x1="209.4" y1="314.6" x2="212.8" y2="314.6" stroke="#1e1e1e" stroke-width="1"/>
<text x="203.8" y="317.1" font-size="7" stroke="#1c1c1c" stroke-width="0.18" text-anchor="end" textLength="18.6" lengthAdjust="spacingAndGlyphs">5×10</text>
<text x="203.7" y="314.2" font-size="4.76" stroke="#1c1c1c" stroke-width="0.18">5</text>
<rect x="225.5" y="362.3" width="20.2" height="71.7" fill="#7584b4" stroke="#66749f" stroke-width="0.6"/>
<rect x="259.6" y="347.9" width="20.2" height="86.1" fill="#dd7467" stroke="#cd685c" stroke-width="0.6"/>
<line x1="212.1" y1="434" x2="292.2" y2="434" stroke="#1e1e1e" stroke-width="1.4"/>
<line x1="235.6" y1="434" x2="235.6" y2="437" stroke="#1e1e1e" stroke-width="1"/>
<text x="235.6" y="447.5" font-size="7.9" stroke="#1c1c1c" stroke-width="0.18" text-anchor="middle">WT</text>
<line x1="269.7" y1="434" x2="269.7" y2="437" stroke="#1e1e1e" stroke-width="1"/>
<text x="269.7" y="447.5" font-size="7.9" stroke="#1c1c1c" stroke-width="0.18" text-anchor="middle">G1s</text>
<line x1="235.5" y1="353.3" x2="235.5" y2="368" stroke="#173f72" stroke-width="1"/>
<line x1="229.9" y1="353.3" x2="241.1" y2="353.3" stroke="#173f72" stroke-width="1"/>
<line x1="229.9" y1="368" x2="241.1" y2="368" stroke="#173f72" stroke-width="1"/>
<line x1="269.8" y1="338.1" x2="269.8" y2="355.5" stroke="#bd0e2b" stroke-width="1"/>
<line x1="264.2" y1="338.1" x2="275.4" y2="338.1" stroke="#bd0e2b" stroke-width="1"/>
<line x1="264.2" y1="355.5" x2="275.4" y2="355.5" stroke="#bd0e2b" stroke-width="1"/>
<circle cx="235.6" cy="348.1" r="1.9" fill="#173f72"/>
<circle cx="235.6" cy="360.3" r="1.9" fill="#173f72"/>
<circle cx="232.4" cy="364.6" r="1.9" fill="#173f72"/>
<circle cx="238.8" cy="365.4" r="1.9" fill="#173f72"/>
<circle cx="235.6" cy="366.2" r="1.9" fill="#173f72"/>
<circle cx="269.8" cy="335.1" r="1.9" fill="#bd0e2b"/>
<circle cx="273.4" cy="342.2" r="1.9" fill="#bd0e2b"/>
<circle cx="266" cy="345.5" r="1.9" fill="#bd0e2b"/>
<circle cx="273.4" cy="353.3" r="1.9" fill="#bd0e2b"/>
<circle cx="266" cy="355.7" r="1.9" fill="#bd0e2b"/>
<polyline points="235.3,340.4 235.3,320.8 269.8,320.8 269.8,327.9" fill="none" stroke="#2e2e2e" stroke-width="1.15"/>
<circle cx="252.5" cy="315.6" r="1.2" fill="#1e1e1e"/>
<text transform="translate(176.8,372.05) rotate(-90)" font-size="7.8" stroke="#1c1c1c" stroke-width="0.3" text-anchor="middle" textLength="65.95" lengthAdjust="spacingAndGlyphs">G6PD/RFU (PBRBC)</text>
<text x="376.4" y="298.8" font-size="11.2" font-weight="bold" fill="#111">D</text>
<line x1="410.9" y1="313" x2="410.9" y2="434.5" stroke="#1e1e1e" stroke-width="1.4"/>
<line x1="407.5" y1="433.8" x2="410.9" y2="433.8" stroke="#1e1e1e" stroke-width="1"/>
<text x="405.6" y="436.4" font-size="7.3" stroke="#1c1c1c" stroke-width="0.18" text-anchor="end">0</text>
<line x1="407.5" y1="403.95" x2="410.9" y2="403.95" stroke="#1e1e1e" stroke-width="1"/>
<text x="405.6" y="406.55" font-size="7.3" stroke="#1c1c1c" stroke-width="0.18" text-anchor="end" textLength="14.4" lengthAdjust="spacingAndGlyphs">200</text>
<line x1="407.5" y1="374.1" x2="410.9" y2="374.1" stroke="#1e1e1e" stroke-width="1"/>
<text x="405.6" y="376.7" font-size="7.3" stroke="#1c1c1c" stroke-width="0.18" text-anchor="end" textLength="14.4" lengthAdjust="spacingAndGlyphs">400</text>
<line x1="407.5" y1="344.25" x2="410.9" y2="344.25" stroke="#1e1e1e" stroke-width="1"/>
<text x="405.6" y="346.85" font-size="7.3" stroke="#1c1c1c" stroke-width="0.18" text-anchor="end" textLength="14.4" lengthAdjust="spacingAndGlyphs">600</text>
<line x1="407.5" y1="314.4" x2="410.9" y2="314.4" stroke="#1e1e1e" stroke-width="1"/>
<text x="405.6" y="317" font-size="7.3" stroke="#1c1c1c" stroke-width="0.18" text-anchor="end" textLength="14.4" lengthAdjust="spacingAndGlyphs">800</text>
<rect x="424.3" y="357.2" width="20.2" height="76.6" fill="#7584b4" stroke="#66749f" stroke-width="0.6"/>
<rect x="458.2" y="363.9" width="20.5" height="69.9" fill="#dd7467" stroke="#cd685c" stroke-width="0.6"/>
<line x1="410.2" y1="433.8" x2="491.5" y2="433.8" stroke="#1e1e1e" stroke-width="1.4"/>
<line x1="434.3" y1="433.8" x2="434.3" y2="436.8" stroke="#1e1e1e" stroke-width="1"/>
<text x="434.3" y="447.5" font-size="7.9" stroke="#1c1c1c" stroke-width="0.18" text-anchor="middle">WT</text>
<line x1="468.6" y1="433.8" x2="468.6" y2="436.8" stroke="#1e1e1e" stroke-width="1"/>
<text x="468.6" y="447.5" font-size="7.9" stroke="#1c1c1c" stroke-width="0.18" text-anchor="middle">G1s</text>
<line x1="434.3" y1="340.4" x2="434.3" y2="371.9" stroke="#173f72" stroke-width="1"/>
<line x1="429.1" y1="340.4" x2="439.5" y2="340.4" stroke="#173f72" stroke-width="1"/>
<line x1="429.1" y1="371.9" x2="439.5" y2="371.9" stroke="#173f72" stroke-width="1"/>
<line x1="468.6" y1="344.4" x2="468.6" y2="381" stroke="#bd0e2b" stroke-width="1"/>
<line x1="463.3" y1="344.4" x2="473.9" y2="344.4" stroke="#bd0e2b" stroke-width="1"/>
<line x1="463.3" y1="381" x2="473.9" y2="381" stroke="#bd0e2b" stroke-width="1"/>
<circle cx="434.3" cy="322.4" r="1.9" fill="#173f72"/>
<circle cx="434.3" cy="332.7" r="1.9" fill="#173f72"/>
<circle cx="430.4" cy="353" r="1.9" fill="#173f72"/>
<circle cx="438" cy="352.7" r="1.9" fill="#173f72"/>
<circle cx="426.8" cy="359.9" r="1.9" fill="#173f72"/>
<circle cx="434.3" cy="361" r="1.9" fill="#173f72"/>
<circle cx="441.6" cy="361" r="1.9" fill="#173f72"/>
<circle cx="426.8" cy="364.2" r="1.9" fill="#173f72"/>
<circle cx="441.6" cy="365.1" r="1.9" fill="#173f72"/>
<circle cx="434.3" cy="370" r="1.9" fill="#173f72"/>
<circle cx="434.3" cy="373.8" r="1.9" fill="#173f72"/>
<circle cx="468.6" cy="331.1" r="1.9" fill="#bd0e2b"/>
<circle cx="468.6" cy="337.7" r="1.9" fill="#bd0e2b"/>
<circle cx="458.7" cy="359.4" r="1.9" fill="#bd0e2b"/>
<circle cx="465.1" cy="359.1" r="1.9" fill="#bd0e2b"/>
<circle cx="471.5" cy="362.3" r="1.9" fill="#bd0e2b"/>
<circle cx="477.9" cy="362.6" r="1.9" fill="#bd0e2b"/>
<circle cx="458.7" cy="363.6" r="1.9" fill="#bd0e2b"/>
<circle cx="465.1" cy="365.8" r="1.9" fill="#bd0e2b"/>
<circle cx="471.5" cy="366.3" r="1.9" fill="#bd0e2b"/>
<circle cx="468.6" cy="388.6" r="1.9" fill="#bd0e2b"/>
<circle cx="468.6" cy="393.4" r="1.9" fill="#bd0e2b"/>
<polyline points="434,315.1 434,307.7 468.6,307.7 468.6,323.6" fill="none" stroke="#2e2e2e" stroke-width="1.15"/>
<text x="451.5" y="302.1" font-size="8.8" stroke="#1c1c1c" stroke-width="0.18" text-anchor="middle">ns</text>
<text transform="translate(383.2,372.95) rotate(-90)" font-size="7.8" stroke="#1c1c1c" stroke-width="0.3" text-anchor="middle" textLength="61.83" lengthAdjust="spacingAndGlyphs">ROSΔMFI (PBRBC)</text>
<text x="0.8" y="476.2" font-size="11.2" font-weight="bold" fill="#111">E</text>
<line x1="40.4" y1="489.5" x2="40.4" y2="611" stroke="#1e1e1e" stroke-width="1.4"/>
<line x1="37" y1="610.3" x2="40.4" y2="610.3" stroke="#1e1e1e" stroke-width="1"/>
<text x="33.6" y="612.9" font-size="7.2" stroke="#1c1c1c" stroke-width="0.18" text-anchor="end">0</text>
<line x1="37" y1="586.34" x2="40.4" y2="586.34" stroke="#1e1e1e" stroke-width="1"/>
<text x="33.6" y="588.94" font-size="7.2" stroke="#1c1c1c" stroke-width="0.18" text-anchor="end" textLength="19.4" lengthAdjust="spacingAndGlyphs">1000</text>
<line x1="37" y1="562.38" x2="40.4" y2="562.38" stroke="#1e1e1e" stroke-width="1"/>
<text x="33.6" y="564.98" font-size="7.2" stroke="#1c1c1c" stroke-width="0.18" text-anchor="end" textLength="19.4" lengthAdjust="spacingAndGlyphs">2000</text>
<line x1="37" y1="538.42" x2="40.4" y2="538.42" stroke="#1e1e1e" stroke-width="1"/>
<text x="33.6" y="541.02" font-size="7.2" stroke="#1c1c1c" stroke-width="0.18" text-anchor="end" textLength="19.4" lengthAdjust="spacingAndGlyphs">3000</text>
<line x1="37" y1="514.46" x2="40.4" y2="514.46" stroke="#1e1e1e" stroke-width="1"/>
<text x="33.6" y="517.06" font-size="7.2" stroke="#1c1c1c" stroke-width="0.18" text-anchor="end" textLength="19.4" lengthAdjust="spacingAndGlyphs">4000</text>
<line x1="37" y1="490.5" x2="40.4" y2="490.5" stroke="#1e1e1e" stroke-width="1"/>
<text x="33.6" y="493.1" font-size="7.2" stroke="#1c1c1c" stroke-width="0.18" text-anchor="end" textLength="19.4" lengthAdjust="spacingAndGlyphs">5000</text>
<rect x="53.1" y="560" width="19.8" height="50.3" fill="#7584b4" stroke="#66749f" stroke-width="0.6"/>
<rect x="87.3" y="506.9" width="20" height="103.4" fill="#dd7467" stroke="#cd685c" stroke-width="0.6"/>
<line x1="39.7" y1="610.3" x2="119.8" y2="610.3" stroke="#1e1e1e" stroke-width="1.4"/>
<line x1="62.8" y1="610.3" x2="62.8" y2="613.3" stroke="#1e1e1e" stroke-width="1"/>
<text x="62.8" y="623.6" font-size="7.9" stroke="#1c1c1c" stroke-width="0.18" text-anchor="middle">WT</text>
<line x1="97.2" y1="610.3" x2="97.2" y2="613.3" stroke="#1e1e1e" stroke-width="1"/>
<text x="97.2" y="623.6" font-size="7.9" stroke="#1c1c1c" stroke-width="0.18" text-anchor="middle">G1s</text>
<line x1="62.8" y1="555.7" x2="62.8" y2="561.5" stroke="#173f72" stroke-width="1"/>
<line x1="55.6" y1="555.7" x2="70" y2="555.7" stroke="#173f72" stroke-width="1"/>
<line x1="55.6" y1="561.5" x2="70" y2="561.5" stroke="#173f72" stroke-width="1"/>
<line x1="97.2" y1="499.6" x2="97.2" y2="510.4" stroke="#bd0e2b" stroke-width="1"/>
<line x1="93" y1="499.6" x2="101.4" y2="499.6" stroke="#bd0e2b" stroke-width="1"/>
<line x1="93" y1="510.4" x2="101.4" y2="510.4" stroke="#bd0e2b" stroke-width="1"/>
<circle cx="55.4" cy="555.7" r="1.9" fill="#173f72"/>
<circle cx="62.8" cy="558.9" r="1.9" fill="#173f72"/>
<circle cx="70.2" cy="557.4" r="1.9" fill="#173f72"/>
<circle cx="62.8" cy="562.1" r="1.9" fill="#173f72"/>
<circle cx="93.4" cy="499.2" r="1.9" fill="#bd0e2b"/>
<circle cx="101" cy="500.2" r="1.9" fill="#bd0e2b"/>
<circle cx="93.4" cy="506" r="1.9" fill="#bd0e2b"/>
<circle cx="101" cy="508.9" r="1.9" fill="#bd0e2b"/>
<circle cx="97.2" cy="513.2" r="1.9" fill="#bd0e2b"/>
<polyline points="62.6,548.2 62.6,485.5 97.2,485.5 97.2,492.4" fill="none" stroke="#2e2e2e" stroke-width="1.15"/>
<circle cx="73.85" cy="479.7" r="1.2" fill="#1e1e1e"/>
<circle cx="77.95" cy="479.7" r="1.2" fill="#1e1e1e"/>
<circle cx="82.05" cy="479.7" r="1.2" fill="#1e1e1e"/>
<circle cx="86.15" cy="479.7" r="1.2" fill="#1e1e1e"/>
<text transform="translate(7.6,549) rotate(-90)" font-size="7.8" stroke="#1c1c1c" stroke-width="0.3" text-anchor="middle" textLength="72.01" lengthAdjust="spacingAndGlyphs">CD59a/ΔMFI (PBRBC)</text>
<line x1="175.9" y1="489.5" x2="175.9" y2="611" stroke="#1e1e1e" stroke-width="1.4"/>
<line x1="172.5" y1="610.3" x2="175.9" y2="610.3" stroke="#1e1e1e" stroke-width="1"/>
<text x="169.6" y="612.9" font-size="7.2" stroke="#1c1c1c" stroke-width="0.18" text-anchor="end">0</text>
<line x1="172.5" y1="586.34" x2="175.9" y2="586.34" stroke="#1e1e1e" stroke-width="1"/>
<text x="169.6" y="588.94" font-size="7.2" stroke="#1c1c1c" stroke-width="0.18" text-anchor="end" textLength="19.4" lengthAdjust="spacingAndGlyphs">1000</text>
<line x1="172.5" y1="562.38" x2="175.9" y2="562.38" stroke="#1e1e1e" stroke-width="1"/>
<text x="169.6" y="564.98" font-size="7.2" stroke="#1c1c1c" stroke-width="0.18" text-anchor="end" textLength="19.4" lengthAdjust="spacingAndGlyphs">2000</text>
<line x1="172.5" y1="538.42" x2="175.9" y2="538.42" stroke="#1e1e1e" stroke-width="1"/>
<text x="169.6" y="541.02" font-size="7.2" stroke="#1c1c1c" stroke-width="0.18" text-anchor="end" textLength="19.4" lengthAdjust="spacingAndGlyphs">3000</text>
<line x1="172.5" y1="514.46" x2="175.9" y2="514.46" stroke="#1e1e1e" stroke-width="1"/>
<text x="169.6" y="517.06" font-size="7.2" stroke="#1c1c1c" stroke-width="0.18" text-anchor="end" textLength="19.4" lengthAdjust="spacingAndGlyphs">4000</text>
<line x1="172.5" y1="490.5" x2="175.9" y2="490.5" stroke="#1e1e1e" stroke-width="1"/>
<text x="169.6" y="493.1" font-size="7.2" stroke="#1c1c1c" stroke-width="0.18" text-anchor="end" textLength="19.4" lengthAdjust="spacingAndGlyphs">5000</text>
<rect x="188.8" y="527.9" width="20.2" height="82.4" fill="#7584b4" stroke="#66749f" stroke-width="0.6"/>
<rect x="223.2" y="523.9" width="20" height="86.4" fill="#dd7467" stroke="#cd685c" stroke-width="0.6"/>
<line x1="175.2" y1="610.3" x2="255.8" y2="610.3" stroke="#1e1e1e" stroke-width="1.4"/>
<line x1="199" y1="610.3" x2="199" y2="613.3" stroke="#1e1e1e" stroke-width="1"/>
<text x="199" y="623.6" font-size="7.9" stroke="#1c1c1c" stroke-width="0.18" text-anchor="middle">WT</text>
<line x1="233.4" y1="610.3" x2="233.4" y2="613.3" stroke="#1e1e1e" stroke-width="1"/>
<text x="233.4" y="623.6" font-size="7.9" stroke="#1c1c1c" stroke-width="0.18" text-anchor="middle">G1s</text>
<line x1="198.9" y1="521.5" x2="198.9" y2="532" stroke="#173f72" stroke-width="1"/>
<line x1="194.4" y1="521.5" x2="203.4" y2="521.5" stroke="#173f72" stroke-width="1"/>
<line x1="194.4" y1="532" x2="203.4" y2="532" stroke="#173f72" stroke-width="1"/>
<line x1="233.4" y1="516.2" x2="233.4" y2="528.5" stroke="#bd0e2b" stroke-width="1"/>
<line x1="228" y1="516.2" x2="238.8" y2="516.2" stroke="#bd0e2b" stroke-width="1"/>
<line x1="228" y1="528.5" x2="238.8" y2="528.5" stroke="#bd0e2b" stroke-width="1"/>
<circle cx="189.2" cy="526.6" r="1.9" fill="#173f72"/>
<circle cx="192.8" cy="523" r="1.9" fill="#173f72"/>
<circle cx="196.8" cy="524.3" r="1.9" fill="#173f72"/>
<circle cx="200.9" cy="522" r="1.9" fill="#173f72"/>
<circle cx="204.9" cy="523.6" r="1.9" fill="#173f72"/>
<circle cx="208.5" cy="523.9" r="1.9" fill="#173f72"/>
<circle cx="200.2" cy="526.3" r="1.9" fill="#173f72"/>
<circle cx="193.5" cy="530.1" r="1.9" fill="#173f72"/>
<circle cx="196.8" cy="530.1" r="1.9" fill="#173f72"/>
<circle cx="200.9" cy="530.4" r="1.9" fill="#173f72"/>
<circle cx="204.9" cy="529.7" r="1.9" fill="#173f72"/>
<circle cx="228.2" cy="513.1" r="1.9" fill="#bd0e2b"/>
<circle cx="233.6" cy="514.9" r="1.9" fill="#bd0e2b"/>
<circle cx="238.1" cy="514.2" r="1.9" fill="#bd0e2b"/>
<circle cx="223.3" cy="522.6" r="1.9" fill="#bd0e2b"/>
<circle cx="228.5" cy="525.3" r="1.9" fill="#bd0e2b"/>
<circle cx="233.6" cy="525.3" r="1.9" fill="#bd0e2b"/>
<circle cx="238.1" cy="522" r="1.9" fill="#bd0e2b"/>
<circle cx="242.6" cy="520.7" r="1.9" fill="#bd0e2b"/>
<circle cx="242.6" cy="525" r="1.9" fill="#bd0e2b"/>
<circle cx="238.1" cy="527" r="1.9" fill="#bd0e2b"/>
<circle cx="228.5" cy="529.8" r="1.9" fill="#bd0e2b"/>
<polyline points="198.8,514.9 198.8,499.2 233.6,499.2 233.6,505.5" fill="none" stroke="#2e2e2e" stroke-width="1.15"/>
<circle cx="216.1" cy="493.5" r="1.2" fill="#1e1e1e"/>
<text transform="translate(143.35,549) rotate(-90)" font-size="7.8" stroke="#1c1c1c" stroke-width="0.3" text-anchor="middle" textLength="69.73" lengthAdjust="spacingAndGlyphs">CD55/ΔMFI (PBRBC)</text>
<text x="272.5" y="476.2" font-size="11.2" font-weight="bold" fill="#111">F</text>
<line x1="307.3" y1="489" x2="307.3" y2="611" stroke="#1e1e1e" stroke-width="1.4"/>
<line x1="303.9" y1="610.3" x2="307.3" y2="610.3" stroke="#1e1e1e" stroke-width="1"/>
<text x="301.4" y="612.9" font-size="7.3" stroke="#1c1c1c" stroke-width="0.18" text-anchor="end">0</text>
<line x1="303.9" y1="580.53" x2="307.3" y2="580.53" stroke="#1e1e1e" stroke-width="1"/>
<text x="301.4" y="583.13" font-size="7.3" stroke="#1c1c1c" stroke-width="0.18" text-anchor="end" textLength="14.5" lengthAdjust="spacingAndGlyphs">200</text>
<line x1="303.9" y1="550.76" x2="307.3" y2="550.76" stroke="#1e1e1e" stroke-width="1"/>
<text x="301.4" y="553.36" font-size="7.3" stroke="#1c1c1c" stroke-width="0.18" text-anchor="end" textLength="14.5" lengthAdjust="spacingAndGlyphs">400</text>
<line x1="303.9" y1="520.99" x2="307.3" y2="520.99" stroke="#1e1e1e" stroke-width="1"/>
<text x="301.4" y="523.59" font-size="7.3" stroke="#1c1c1c" stroke-width="0.18" text-anchor="end" textLength="14.5" lengthAdjust="spacingAndGlyphs">600</text>
<line x1="303.9" y1="491.22" x2="307.3" y2="491.22" stroke="#1e1e1e" stroke-width="1"/>
<text x="301.4" y="493.82" font-size="7.3" stroke="#1c1c1c" stroke-width="0.18" text-anchor="end" textLength="14.5" lengthAdjust="spacingAndGlyphs">800</text>
<rect x="320.3" y="533.6" width="19.9" height="76.7" fill="#7584b4" stroke="#66749f" stroke-width="0.6"/>
<rect x="354.1" y="546.6" width="20.1" height="63.7" fill="#dd7467" stroke="#cd685c" stroke-width="0.6"/>
<line x1="306.6" y1="610.3" x2="387" y2="610.3" stroke="#1e1e1e" stroke-width="1.4"/>
<line x1="330" y1="610.3" x2="330" y2="613.3" stroke="#1e1e1e" stroke-width="1"/>
<text x="330" y="623.6" font-size="7.9" stroke="#1c1c1c" stroke-width="0.18" text-anchor="middle">WT</text>
<line x1="364.3" y1="610.3" x2="364.3" y2="613.3" stroke="#1e1e1e" stroke-width="1"/>
<text x="364.3" y="623.6" font-size="7.9" stroke="#1c1c1c" stroke-width="0.18" text-anchor="middle">G1s</text>
<line x1="330" y1="500" x2="330" y2="564.5" stroke="#173f72" stroke-width="1"/>
<line x1="324.8" y1="500" x2="335.2" y2="500" stroke="#173f72" stroke-width="1"/>
<line x1="324.8" y1="564.5" x2="335.2" y2="564.5" stroke="#173f72" stroke-width="1"/>
<line x1="364.4" y1="524.5" x2="364.4" y2="565.5" stroke="#bd0e2b" stroke-width="1"/>
<line x1="358.8" y1="524.5" x2="370" y2="524.5" stroke="#bd0e2b" stroke-width="1"/>
<line x1="358.8" y1="565.5" x2="370" y2="565.5" stroke="#bd0e2b" stroke-width="1"/>
<circle cx="326.3" cy="497.5" r="1.9" fill="#173f72"/>
<circle cx="333.8" cy="499.2" r="1.9" fill="#173f72"/>
<circle cx="330" cy="543" r="1.9" fill="#173f72"/>
<circle cx="330" cy="554.5" r="1.9" fill="#173f72"/>
<circle cx="330" cy="567.5" r="1.9" fill="#173f72"/>
<circle cx="364.5" cy="509.5" r="1.9" fill="#bd0e2b"/>
<circle cx="364.5" cy="530.5" r="1.9" fill="#bd0e2b"/>
<circle cx="364.5" cy="539.5" r="1.9" fill="#bd0e2b"/>
<circle cx="364.5" cy="548.3" r="1.9" fill="#bd0e2b"/>
<circle cx="364.5" cy="557.5" r="1.9" fill="#bd0e2b"/>
<circle cx="364.5" cy="565" r="1.9" fill="#bd0e2b"/>
<circle cx="364.5" cy="567" r="1.9" fill="#bd0e2b"/>
<polyline points="330,490.5 330,483.5 364.5,483.5 364.5,502.5" fill="none" stroke="#2e2e2e" stroke-width="1.15"/>
<text x="347.5" y="478" font-size="8.8" stroke="#1c1c1c" stroke-width="0.18" text-anchor="middle">ns</text>
<text transform="translate(280.85,548.95) rotate(-90)" font-size="7.8" stroke="#1c1c1c" stroke-width="0.3" text-anchor="middle" textLength="55.82" lengthAdjust="spacingAndGlyphs">LDH (U/L, serum)</text>
<text x="403.4" y="476.3" font-size="11.2" font-weight="bold" fill="#111">G</text>
<line x1="439.5" y1="489" x2="439.5" y2="610.6" stroke="#1e1e1e" stroke-width="1.4"/>
<line x1="436.1" y1="609.9" x2="439.5" y2="609.9" stroke="#1e1e1e" stroke-width="1"/>
<text x="433.4" y="612.5" font-size="7.2" stroke="#1c1c1c" stroke-width="0.18" text-anchor="end" textLength="15.8" lengthAdjust="spacingAndGlyphs">0.00</text>
<line x1="436.1" y1="586.02" x2="439.5" y2="586.02" stroke="#1e1e1e" stroke-width="1"/>
<text x="433.4" y="588.62" font-size="7.2" stroke="#1c1c1c" stroke-width="0.18" text-anchor="end" textLength="15.8" lengthAdjust="spacingAndGlyphs">0.05</text>
<line x1="436.1" y1="562.14" x2="439.5" y2="562.14" stroke="#1e1e1e" stroke-width="1"/>
<text x="433.4" y="564.74" font-size="7.2" stroke="#1c1c1c" stroke-width="0.18" text-anchor="end" textLength="15.8" lengthAdjust="spacingAndGlyphs">0.10</text>
<line x1="436.1" y1="538.26" x2="439.5" y2="538.26" stroke="#1e1e1e" stroke-width="1"/>
<text x="433.4" y="540.86" font-size="7.2" stroke="#1c1c1c" stroke-width="0.18" text-anchor="end" textLength="15.8" lengthAdjust="spacingAndGlyphs">0.15</text>
<line x1="436.1" y1="514.38" x2="439.5" y2="514.38" stroke="#1e1e1e" stroke-width="1"/>
<text x="433.4" y="516.98" font-size="7.2" stroke="#1c1c1c" stroke-width="0.18" text-anchor="end" textLength="15.8" lengthAdjust="spacingAndGlyphs">0.20</text>
<line x1="436.1" y1="490.5" x2="439.5" y2="490.5" stroke="#1e1e1e" stroke-width="1"/>
<text x="433.4" y="493.1" font-size="7.2" stroke="#1c1c1c" stroke-width="0.18" text-anchor="end" textLength="15.8" lengthAdjust="spacingAndGlyphs">0.25</text>
<rect x="452.9" y="521.5" width="19.9" height="88.4" fill="#7584b4" stroke="#66749f" stroke-width="0.6"/>
<rect x="487.2" y="532.6" width="20.2" height="77.3" fill="#dd7467" stroke="#cd685c" stroke-width="0.6"/>
<line x1="438.8" y1="609.9" x2="520" y2="609.9" stroke="#1e1e1e" stroke-width="1.4"/>
<line x1="463.1" y1="609.9" x2="463.1" y2="612.9" stroke="#1e1e1e" stroke-width="1"/>
<text x="463.1" y="623.6" font-size="7.9" stroke="#1c1c1c" stroke-width="0.18" text-anchor="middle">WT</text>
<line x1="496.9" y1="609.9" x2="496.9" y2="612.9" stroke="#1e1e1e" stroke-width="1"/>
<text x="496.9" y="623.6" font-size="7.9" stroke="#1c1c1c" stroke-width="0.18" text-anchor="middle">G1s</text>
<line x1="463.1" y1="514.2" x2="463.1" y2="524.9" stroke="#173f72" stroke-width="1"/>
<line x1="457.7" y1="514.2" x2="468.5" y2="514.2" stroke="#173f72" stroke-width="1"/>
<line x1="457.7" y1="524.9" x2="468.5" y2="524.9" stroke="#173f72" stroke-width="1"/>
<line x1="497.3" y1="523.4" x2="497.3" y2="538.8" stroke="#bd0e2b" stroke-width="1"/>
<line x1="492.3" y1="523.4" x2="502.3" y2="523.4" stroke="#bd0e2b" stroke-width="1"/>
<line x1="492.3" y1="538.8" x2="502.3" y2="538.8" stroke="#bd0e2b" stroke-width="1"/>
<circle cx="462.8" cy="511.2" r="1.9" fill="#173f72"/>
<circle cx="455.4" cy="523.4" r="1.9" fill="#173f72"/>
<circle cx="462.8" cy="522.3" r="1.9" fill="#173f72"/>
<circle cx="470.8" cy="523.4" r="1.9" fill="#173f72"/>
<circle cx="497.4" cy="522.3" r="1.9" fill="#bd0e2b"/>
<circle cx="497.4" cy="526.9" r="1.9" fill="#bd0e2b"/>
<circle cx="497.4" cy="534.6" r="1.9" fill="#bd0e2b"/>
<circle cx="497.4" cy="540" r="1.9" fill="#bd0e2b"/>
<polyline points="462.8,503.8 462.8,497.2 497.4,497.2 497.4,515.1" fill="none" stroke="#2e2e2e" stroke-width="1.15"/>
<text x="480.3" y="491.6" font-size="8.8" stroke="#1c1c1c" stroke-width="0.18" text-anchor="middle">ns</text>
<text transform="translate(411.4,549) rotate(-90)" font-size="7.8" stroke="#1c1c1c" stroke-width="0.3" text-anchor="middle" textLength="105.8" lengthAdjust="spacingAndGlyphs">ADA activity PBRBC lysate (U/µL)</text>
</svg>
</body></html>
